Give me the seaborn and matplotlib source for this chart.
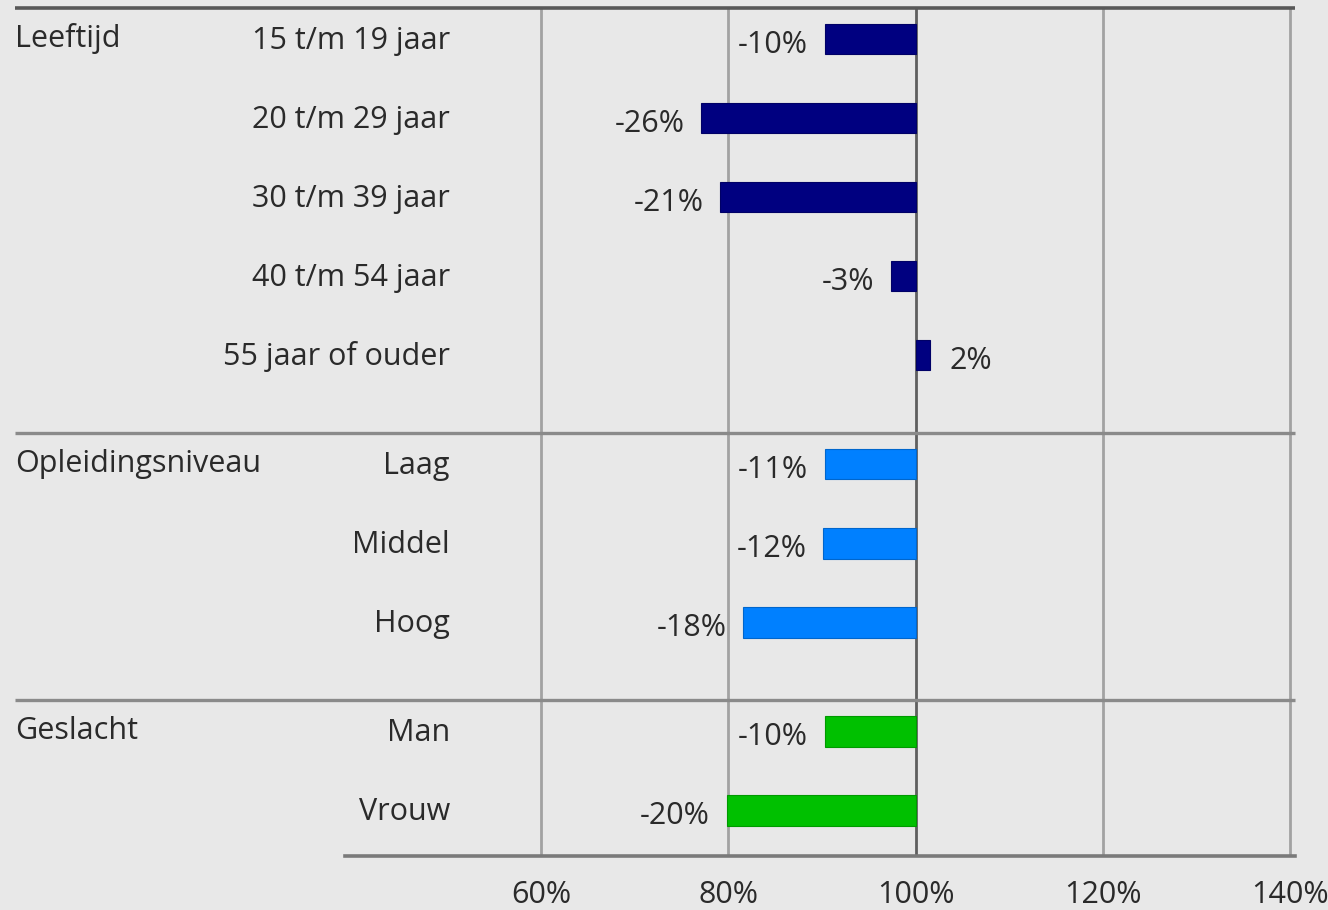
"""Verandering t.o.v. 100% per groep, horizontale staafgrafiek."""

import matplotlib

matplotlib.use("Agg")

import matplotlib.pyplot as plt
import pandas as pd
import seaborn as sns
from matplotlib.colors import to_rgb

groups = ["Leeftijd", "Opleidingsniveau", "Geslacht"]
group_colors = ["#000080", "#0080ff", "#00c000"]

categories = [
    "15 t/m 19 jaar", "20 t/m 29 jaar", "30 t/m 39 jaar", "40 t/m 54 jaar",
    "55 jaar of ouder", "Laag", "Middel", "Hoog", "Man", "Vrouw",
]
category_group = [
    "Leeftijd", "Leeftijd", "Leeftijd", "Leeftijd", "Leeftijd",
    "Opleidingsniveau", "Opleidingsniveau", "Opleidingsniveau",
    "Geslacht", "Geslacht",
]
# staaflengte zoals getekend (verschil met 100%)
changes = [-9.7, -22.9, -20.9, -2.6, 1.5, -9.7, -9.9, -18.4, -9.7, -20.2]
value_labels = ["-10%", "-26%", "-21%", "-3%", "2%", "-11%", "-12%", "-18%", "-10%", "-20%"]

xticks = [-40, -20, 0, 20, 40]

# rijposities: 1 per categorie, extra ruimte tussen groepen
GROUP_GAP = 1.38
positions = []
group_start = {}
y = 0.0
prev = None
for g in category_group:
    if prev is not None:
        y += 1.0 if g == prev else GROUP_GAP
    if g not in group_start:
        group_start[g] = y
    positions.append(y)
    prev = g

df = pd.DataFrame({"change": changes, "pos": positions, "group": category_group})

sns.set_theme(style="white")
plt.rcParams["font.family"] = ["Open Sans", "DejaVu Sans"]
BG = "#e8e8e8"
TXT = "#2a2a2a"
FS = 22

fig = plt.figure(figsize=(13.28, 9.10), dpi=100, facecolor=BG)
ax = fig.add_axes([345 / 1328, 54 / 910, 950 / 1328, 848 / 910])
ax.set_facecolor(BG)

for t in xticks:
    ax.axvline(t, color="#5f5f5f" if t == 0 else "#a2a2a2", lw=2.0, zorder=0)

sns.barplot(
    data=df, x="change", y="pos", hue="group", orient="h", native_scale=True,
    dodge=False, palette=dict(zip(groups, group_colors)), saturation=1,
    width=0.39, legend=False, ax=ax, zorder=2,
)
for p in ax.patches:
    r, g, b = to_rgb(p.get_facecolor())
    p.set_edgecolor((r * 0.8, g * 0.8, b * 0.8))
    p.set_linewidth(0.8)

for val, pos, lab in zip(changes, positions, value_labels):
    ax.annotate(
        lab, xy=(val, pos), xytext=(-12 if val < 0 else 14, -4),
        textcoords="offset points", ha="right" if val < 0 else "left",
        va="center", fontsize=FS, color=TXT,
    )

top = positions[0] - 0.392
bottom = positions[-1] + 0.58
ax.set_ylim(bottom, top)
ax.set_xlim(-60.95, 40.5)

ytrans = ax.get_yaxis_transform()
label_x = (450 - 345) / 950
left_x = (15 - 345) / 950
for cat, pos in zip(categories, positions):
    ax.text(label_x, pos + 0.02, cat, transform=ytrans, ha="right", va="center",
            fontsize=FS, color=TXT, clip_on=False)
for g in groups:
    ax.text(left_x, group_start[g], g, transform=ytrans, ha="left", va="center",
            fontsize=FS, color=TXT, clip_on=False)

ax.plot([left_x, 1.0], [top, top], transform=ytrans, color="#585858", lw=2.6,
        clip_on=False, solid_capstyle="butt", zorder=3)
for g in groups[1:]:
    yy = group_start[g] - 0.392
    ax.plot([left_x, 1.0], [yy, yy], transform=ytrans, color="#8a8a8a", lw=2.4,
            clip_on=False, solid_capstyle="butt", zorder=3)

ax.set_yticks([])
ax.set_ylabel("")
ax.set_xlabel("")
ax.set_xticks(xticks)
ax.set_xticklabels([f"{t + 100}%" for t in xticks])
ax.tick_params(axis="x", length=0, pad=17, labelsize=FS, labelcolor=TXT)
for side in ["left", "right", "top"]:
    ax.spines[side].set_visible(False)
ax.spines["bottom"].set_color("#7a7a7a")
ax.spines["bottom"].set_linewidth(2.6)

fig.savefig("out.png", dpi=100, facecolor=BG)
plt.close(fig)
